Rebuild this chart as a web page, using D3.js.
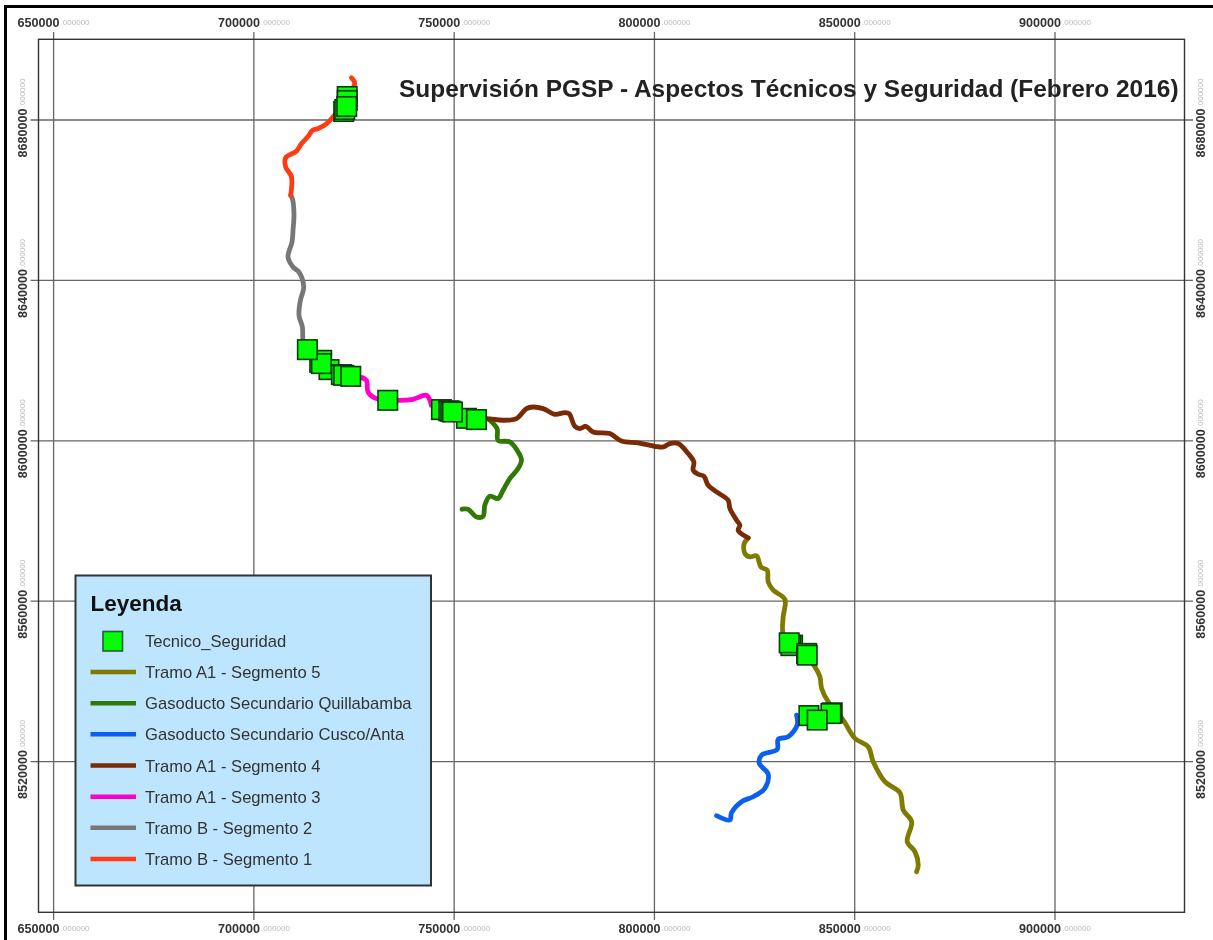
<!DOCTYPE html>
<html>
<head>
<meta charset="utf-8">
<title>Supervisión PGSP</title>
<script src="https://d3js.org/d3.v7.min.js"></script>
<style>
    html, body { margin: 0; padding: 0; background: white; }
    svg { display: block; filter: blur(0.5px); font-family: "Liberation Sans", Arial, sans-serif; }
</style>
</head>
<body>
<script>
// map coordinates, in km (UTM easting, northing)
const xTicks = [650000, 700000, 750000, 800000, 850000, 900000]
const yTicks = [8680000, 8640000, 8600000, 8560000, 8520000]

const tramoB1 = [[724.35,8690.52],[725.17,8689.10],[722.68,8684.86],[719.36,8680.30],[718.11,8679.05],[715.93,8677.81],[714.61,8677.38],[713.51,8675.89],[711.86,8674.07],[710.61,8672.22],[707.94,8670.58],[707.94,8668.24],[709.37,8665.92],[709.19,8661.19]]
const tramoB2 = [[709.19,8661.19],[709.62,8660.36],[710.01,8656.63],[709.77,8652.46],[709.52,8649.55],[708.52,8645.81],[709.77,8643.32],[711.26,8642.07],[712.44,8638.33],[711.61,8635.02],[711.26,8631.28],[712.11,8628.37],[712.26,8625.05],[712.94,8622.81]]
const tramoA3 = [[724.18,8616.08],[726.42,8615.91],[728.10,8615.08],[728.50,8612.17],[730.59,8610.52],[735.99,8610.10],[739.73,8610.35],[743.08,8611.35],[744.33,8608.85]]
const tramoA4 = [[753.90,8605.36],[758.07,8605.54],[762.21,8605.12],[765.56,8605.54],[768.06,8608.03],[769.71,8608.43],[772.20,8608.03],[775.12,8606.61],[777.62,8607.03],[778.70,8606.79],[780.12,8603.62],[781.37,8603.05],[782.87,8603.62],[784.69,8602.20],[788.86,8601.80],[791.78,8599.96],[795.93,8599.46],[800.10,8598.64],[802.17,8598.46],[803.85,8599.31],[805.92,8599.31],[808.42,8596.82],[809.84,8594.72],[809.67,8592.66],[810.91,8591.66],[812.34,8591.16],[813.41,8588.92],[815.51,8587.25],[818.41,8585.18],[818.83,8583.11],[820.50,8580.20],[821.33,8578.95],[820.90,8577.70],[823.40,8575.78]]
const tramoA5 = [[823.40,8575.78],[822.40,8574.39],[822.58,8571.90],[823.83,8571.05],[825.50,8571.30],[826.57,8568.56],[828.15,8567.74],[828.40,8564.82],[829.65,8562.75],[832.57,8560.43],[832.14,8556.10],[832.14,8551.96],[833.82,8550.29],[837.56,8546.55],[840.06,8543.64],[841.31,8541.15],[841.73,8538.26],[843.38,8534.92],[847.13,8530.36],[850.05,8525.80],[853.37,8523.70],[854.62,8519.96],[857.54,8514.98],[861.29,8512.24],[862.11,8507.93],[864.21,8505.01],[863.11,8500.03],[865.03,8497.54],[865.86,8494.22],[865.46,8492.55]]
const quillabamba = [[758.89,8605.12],[760.71,8603.05],[760.96,8600.13],[763.89,8599.71],[765.96,8597.22],[766.81,8595.15],[765.96,8593.08],[763.89,8590.59],[762.21,8587.67],[760.96,8585.60],[758.89,8586.18],[757.64,8583.93],[757.22,8581.19],[755.57,8581.02],[753.47,8582.94],[751.97,8582.94]]
const cuscoAnta = [[835.49,8531.60],[835.64,8529.11],[833.39,8526.19],[830.89,8525.55],[830.64,8523.05],[826.75,8521.63],[826.15,8519.57],[828.40,8516.90],[827.57,8513.34],[824.65,8511.24],[821.75,8510.00],[819.25,8507.25],[818.83,8505.44],[815.51,8506.51]]

// Tecnico_Seguridad points, back to front
const tecnico = [[723.30,8685.86],[723.30,8684.86],[722.43,8682.12],[722.68,8682.62],[723.18,8683.36],
    [716.43,8619.57],[716.93,8620.07],[718.76,8617.75],[716.86,8619.25],[721.85,8616.50],[722.43,8616.33],[724.18,8616.08],[713.36,8622.73],
    [733.42,8610.10],[746.83,8607.78],[753.07,8605.61],[748.65,8607.48],[749.15,8607.36],[749.57,8607.18],[755.57,8605.29],
    [834.49,8549.05],[834.06,8548.92],[833.64,8549.62],[837.99,8546.98],[838.14,8546.55],
    [838.56,8531.47],[844.38,8532.17],[844.06,8531.98],[840.63,8530.36]]

const lineNames = ["Tramo A1 - Segmento 5","Gasoducto Secundario Quillabamba","Gasoducto Secundario Cusco/Anta","Tramo A1 - Segmento 4","Tramo A1 - Segmento 3","Tramo B - Segmento 2","Tramo B - Segmento 1"]
const lineColors = ["#7f7a00","#2f7a05","#0a5ff0","#7a2a05","#ff00cc","#777777","#ff3b14"]
const lineData = [tramoA5, quillabamba, cuscoAnta, tramoA4, tramoA3, tramoB2, tramoB1]

const title = "Supervisión PGSP - Aspectos Técnicos y Seguridad (Febrero 2016)"

const w = 1213, h = 940
const frame = {left: 38.5, top: 39.3, right: 1184.5, bottom: 912.3}

const svg = d3.select("body").append("svg").attr("width", w).attr("height", h)

const x = d3.scaleLinear().domain([650, 900]).range([53.6, 1055])
const y = d3.scaleLinear().domain([8680, 8520]).range([120, 761.6])

// page border, top and left only
svg.append("line").attr("x1", 5).attr("x2", w).attr("y1", 6.5).attr("y2", 6.5).attr("stroke", "black").attr("stroke-width", 3)
svg.append("line").attr("x1", 5.5).attr("x2", 5.5).attr("y1", 5).attr("y2", h).attr("stroke", "black").attr("stroke-width", 3)

// grid
svg.append("g").selectAll("line").data(xTicks).enter().append("line")
    .attr("x1", d => x(d / 1000)).attr("x2", d => x(d / 1000))
    .attr("y1", 32).attr("y2", 920)
    .attr("stroke", "#666").attr("stroke-width", 1.3)
svg.append("g").selectAll("line").data(yTicks).enter().append("line")
    .attr("x1", 30.5).attr("x2", 1193)
    .attr("y1", d => y(d / 1000)).attr("y2", d => y(d / 1000))
    .attr("stroke", "#666").attr("stroke-width", 1.3)

svg.append("rect")
    .attr("x", frame.left).attr("y", frame.top)
    .attr("width", frame.right - frame.left).attr("height", frame.bottom - frame.top)
    .attr("fill", "none").attr("stroke", "#333").attr("stroke-width", 1.4)

// tick labels: whole part in bold, decimals small and pale
function tickLabel(sel, d) {
    sel.append("tspan").attr("font-size", 12.6).attr("font-weight", "bold").attr("fill", "#333").text(d)
    sel.append("tspan").attr("font-size", 8).attr("fill", "#bbb").attr("dx", 1).attr("dy", -2).text(".000000")
}
xTicks.forEach(d => {
    svg.append("text").attr("x", x(d / 1000) - 36).attr("y", 27).call(tickLabel, d)
    svg.append("text").attr("x", x(d / 1000) - 36).attr("y", 933).call(tickLabel, d)
})
yTicks.forEach(d => {
    svg.append("text").attr("transform", "translate(26.5," + (y(d / 1000) + 37.5) + ") rotate(-90)").call(tickLabel, d)
    svg.append("text").attr("transform", "translate(1204.5," + (y(d / 1000) + 37.5) + ") rotate(-90)").call(tickLabel, d)
})

// pipeline segments
const path = d3.line().curve(d3.curveCatmullRom).x(d => x(d[0])).y(d => y(d[1]))
svg.append("g").selectAll("path").data(lineData).enter().append("path")
    .attr("d", path)
    .attr("fill", "none")
    .attr("stroke", (d, i) => lineColors[i])
    .attr("stroke-width", 4.8)
    .attr("stroke-linejoin", "round")
    .attr("stroke-linecap", "round")

// stations
const size = 19.5
svg.append("g").selectAll("rect").data(tecnico).enter().append("rect")
    .attr("x", d => x(d[0]) - size / 2)
    .attr("y", d => y(d[1]) - size / 2)
    .attr("width", size).attr("height", size)
    .attr("fill", "#00ff00").attr("stroke", "#0c3a0c").attr("stroke-width", 1.6)

svg.append("text").attr("x", 399).attr("y", 97)
    .attr("font-size", 24.45).attr("font-weight", "bold").attr("fill", "#222")
    .text(title)

// legend
const legend = svg.append("g")
legend.append("rect").attr("x", 75.5).attr("y", 575.5).attr("width", 355.5).attr("height", 310)
    .attr("fill", "#bde5fe").attr("stroke", "#333").attr("stroke-width", 2)
legend.append("text").attr("x", 90.5).attr("y", 611).attr("font-size", 22.5).attr("font-weight", "bold").attr("fill", "#111").text("Leyenda")
legend.append("rect").attr("x", 103).attr("y", 631.5).attr("width", size).attr("height", size)
    .attr("fill", "#00ff00").attr("stroke", "#2a5a3a").attr("stroke-width", 1.6)
legend.append("text").attr("x", 145).attr("y", 646.5).attr("font-size", 16.6).attr("fill", "#333").text("Tecnico_Seguridad")

const rows = d3.scaleLinear().domain([0, 6]).range([672, 859])
lineNames.forEach((name, i) => {
    legend.append("line").attr("x1", 90.5).attr("x2", 136).attr("y1", rows(i)).attr("y2", rows(i))
        .attr("stroke", lineColors[i]).attr("stroke-width", 4.5)
    legend.append("text").attr("x", 145).attr("y", rows(i) + 6).attr("font-size", 16.6).attr("fill", "#333").text(name)
})
</script>
</body>
</html>
